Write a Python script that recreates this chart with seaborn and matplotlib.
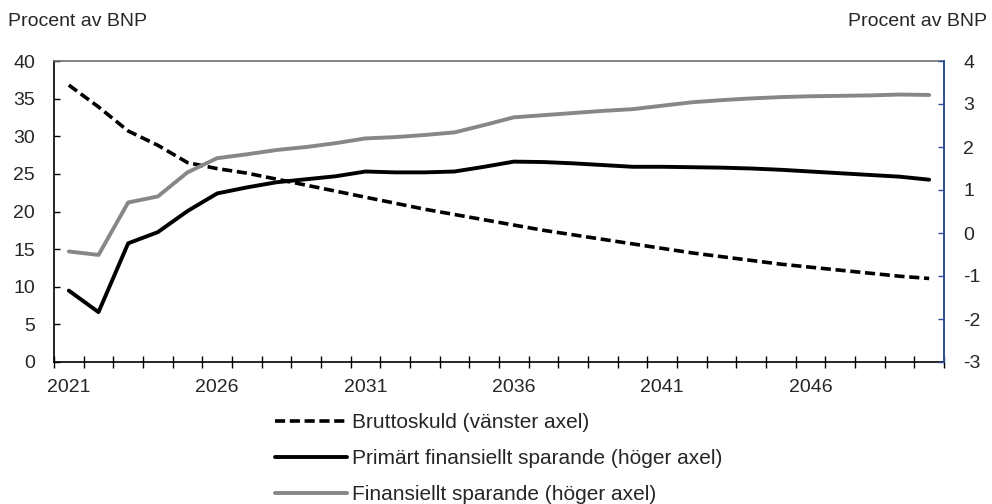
import numpy as np
import pandas as pd
import matplotlib
matplotlib.use("Agg")
import matplotlib.pyplot as plt
import seaborn as sns

# Series (percent of GDP)
years = list(range(2021, 2051))
bruttoskuld = [36.8, 33.9, 30.7, 28.8, 26.5, 25.7, 25.1, 24.3, 23.5, 22.7,
               21.9, 21.1, 20.3, 19.6, 18.9, 18.2, 17.5, 16.9, 16.3, 15.7,
               15.1, 14.5, 14.0, 13.5, 13.0, 12.6, 12.2, 11.8, 11.4, 11.1]
primart = [-1.34, -1.84, -0.24, 0.02, 0.51, 0.92, 1.06, 1.18, 1.25, 1.32,
           1.43, 1.41, 1.41, 1.43, 1.54, 1.66, 1.65, 1.62, 1.58, 1.54,
           1.54, 1.53, 1.52, 1.50, 1.47, 1.43, 1.39, 1.35, 1.31, 1.24]
finansiellt = [-0.43, -0.51, 0.71, 0.85, 1.41, 1.74, 1.83, 1.93, 2.00, 2.09,
               2.20, 2.23, 2.28, 2.34, 2.51, 2.69, 2.74, 2.79, 2.84, 2.88,
               2.96, 3.04, 3.09, 3.13, 3.16, 3.18, 3.19, 3.20, 3.22, 3.21]

labels = ["Bruttoskuld (vänster axel)",
          "Primärt finansiellt sparande (höger axel)",
          "Finansiellt sparande (höger axel)"]
year_labels = [str(y) for y in years[::5]]

sns.set_theme(style="white")
plt.rcParams["font.family"] = ["Liberation Sans", "DejaVu Sans"]
plt.rcParams["axes.unicode_minus"] = False

FS = 14
df = pd.DataFrame({"pos": np.arange(len(years)), "brutto": bruttoskuld,
                   "primart": primart, "finans": finansiellt})

fig = plt.figure(figsize=(9.92, 5.04), dpi=100)
ax = fig.add_axes([54 / 992, 1 - 362 / 504, 890 / 992, 301 / 504])
ax2 = ax.twinx()

gray = "#878787"
l1 = sns.lineplot(data=df, x="pos", y="brutto", ax=ax, color="black",
                  linewidth=2.6, label=labels[0], legend=False)
l1.lines[0].set_dashes((2.8, 1.3))
sns.lineplot(data=df, x="pos", y="primart", ax=ax2, color="black",
             linewidth=2.8, label=labels[1], legend=False)
sns.lineplot(data=df, x="pos", y="finans", ax=ax2, color=gray,
             linewidth=2.8, label=labels[2], legend=False)

n = len(years)
ax.set_xlim(-0.5, n - 0.5)
ax.set_ylim(0, 40)
ax2.set_ylim(-3, 4)
ax.set_yticks(np.arange(0, 41, 5))
ax2.set_yticks(np.arange(-3, 5, 1))
ax.set_xlabel("")
ax.set_ylabel("")
ax2.set_ylabel("")

# Tick marks between categories, labels every fifth year
ax.set_xticks(np.arange(-0.5, n, 1.0))
ax.set_xticklabels([])
ax.set_xticks(np.arange(0, n, 5), minor=True)
ax.set_xticklabels(year_labels, minor=True)
ax.tick_params(axis="x", which="major", direction="inout", length=9,
               width=1, color="black", bottom=True)
ax.tick_params(axis="x", which="minor", length=0, pad=12.5, labelsize=FS,
               bottom=True)
ax.tick_params(axis="y", direction="in", length=4.5, width=1,
               color="black", pad=13.7, labelsize=FS, left=True)
blue = "#2F4F9A"
ax2.tick_params(axis="y", direction="in", length=4.5, width=1,
                color=blue, pad=13.7, labelsize=FS, right=True)

for a in (ax, ax2):
    a.grid(False)
    for s in a.spines.values():
        s.set_visible(False)
ax.spines["left"].set_visible(True)
ax.spines["left"].set_color("black")
ax.spines["bottom"].set_visible(True)
ax.spines["bottom"].set_color("black")
ax.spines["top"].set_visible(True)
ax.spines["top"].set_color("#6e6e6e")
ax2.spines["right"].set_visible(True)
ax2.spines["right"].set_color(blue)
for s in ("left", "bottom", "top"):
    ax.spines[s].set_linewidth(1.2)
ax2.spines["right"].set_linewidth(1.4)

fig.text(8 / 992, 1 - 22 / 504, "Procent av BNP", fontsize=FS,
         ha="left", va="center")
fig.text(987 / 992, 1 - 22 / 504, "Procent av BNP", fontsize=FS,
         ha="right", va="center")

handles = ax.get_lines()[:1] + ax2.get_lines()[:2]
fig.legend(handles, labels, loc="upper left",
           bbox_to_anchor=(275 / 992, 1 - 413 / 504), frameon=False,
           fontsize=15, handlelength=3.45, handletextpad=0.25,
           labelspacing=0.82, borderpad=0, borderaxespad=0)

fig.savefig("out.png", dpi=100)
